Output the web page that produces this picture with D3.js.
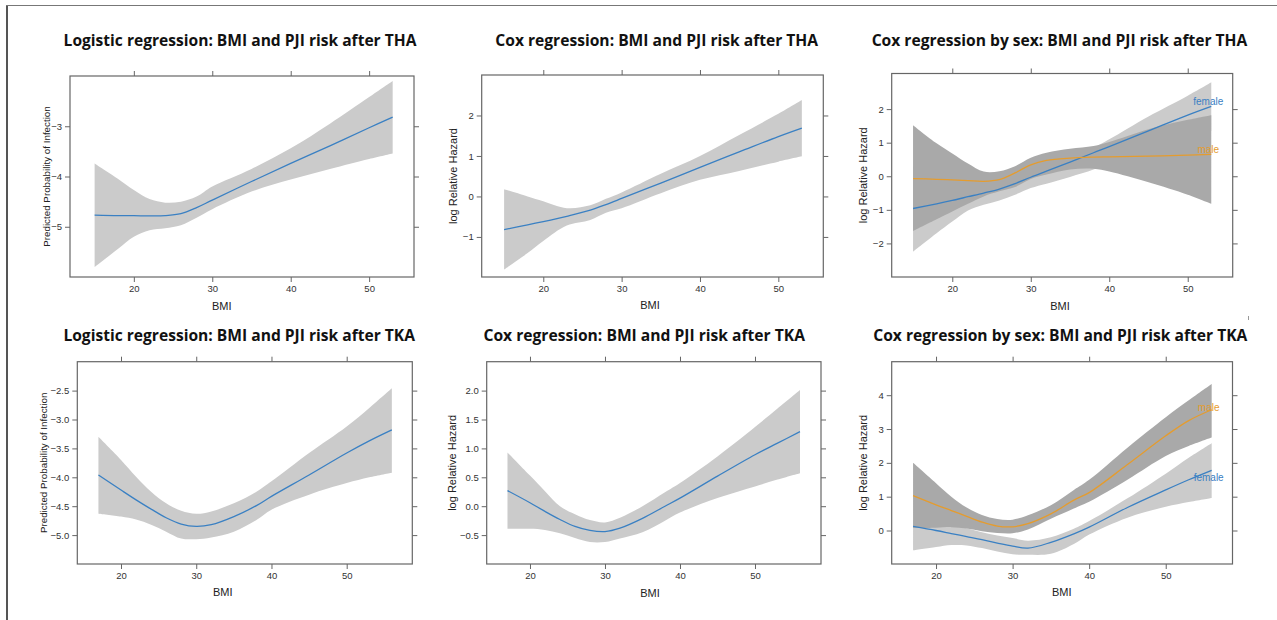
<!DOCTYPE html>
<html><head><meta charset="utf-8">
<script src="https://cdn.jsdelivr.net/npm/d3@7"></script>
<style>body{margin:0;background:#fff}svg{display:block}</style>
</head><body>
<svg id="c" width="1277" height="620"></svg>
<script>
// ---------------- DATA ----------------
const xTicks = [20, 30, 40, 50];

// THA logistic
const thaLogitX     = [15, 18, 20, 22, 24, 26, 28, 30, 35, 40, 45, 50, 53];
const thaLogitFit   = [-4.77, -4.78, -4.78, -4.785, -4.78, -4.74, -4.62, -4.47, -4.10, -3.74, -3.39, -3.03, -2.82];
const thaLogitUpper = [-3.74, -4.05, -4.27, -4.45, -4.52, -4.50, -4.40, -4.20, -3.85, -3.44, -2.95, -2.42, -2.10];
const thaLogitLower = [-5.80, -5.44, -5.20, -5.07, -5.03, -4.97, -4.82, -4.65, -4.30, -4.06, -3.85, -3.65, -3.54];
const thaLogitYTicks = [-5, -4, -3];

// THA Cox
const thaCoxX     = [15, 18, 20, 23, 26, 28, 30, 35, 40, 45, 50, 53];
const thaCoxFit   = [-0.82, -0.70, -0.62, -0.49, -0.34, -0.20, -0.05, 0.33, 0.72, 1.10, 1.48, 1.69];
const thaCoxUpper = [0.18, 0.00, -0.12, -0.29, -0.22, -0.06, 0.10, 0.56, 1.00, 1.52, 2.04, 2.38];
const thaCoxLower = [-1.81, -1.40, -1.10, -0.72, -0.58, -0.40, -0.29, 0.08, 0.41, 0.63, 0.86, 0.99];
const thaCoxYTicks = [-1, 0, 1, 2];

// THA Cox by sex
const thaSexX        = [15, 18, 20, 22, 24, 26, 28, 30, 32, 35, 38, 40, 45, 50, 53];
const thaFemaleFit   = [-0.96, -0.82, -0.72, -0.61, -0.50, -0.38, -0.22, -0.03, 0.15, 0.42, 0.70, 0.88, 1.35, 1.82, 2.08];
const thaFemaleUpper = [0.30, -0.05, -0.20, -0.30, -0.28, -0.15, 0.05, 0.22, 0.40, 0.62, 0.85, 1.10, 1.78, 2.40, 2.80];
const thaFemaleLower = [-2.25, -1.70, -1.35, -1.02, -0.85, -0.72, -0.55, -0.35, -0.22, -0.02, 0.20, 0.40, 0.85, 1.20, 1.35];
const thaMaleFit     = [-0.07, -0.09, -0.11, -0.13, -0.15, -0.10, 0.10, 0.34, 0.47, 0.54, 0.57, 0.58, 0.60, 0.63, 0.65];
const thaMaleUpper   = [1.52, 0.98, 0.68, 0.38, 0.14, 0.15, 0.30, 0.55, 0.70, 0.82, 0.90, 1.02, 1.40, 1.68, 1.82];
const thaMaleLower   = [-1.63, -1.28, -1.05, -0.82, -0.60, -0.45, -0.32, -0.08, 0.05, 0.20, 0.22, 0.14, -0.18, -0.55, -0.82];
const thaSexYTicks = [-2, -1, 0, 1, 2];

// TKA grid
const tkaX = [17, 20, 22, 24, 26, 28, 30, 32, 35, 38, 40, 45, 50, 53, 56];

// TKA logistic
const tkaLogitFit   = [-3.96, -4.22, -4.39, -4.55, -4.70, -4.81, -4.85, -4.82, -4.68, -4.49, -4.33, -3.96, -3.58, -3.37, -3.18];
const tkaLogitUpper = [-3.30, -3.70, -3.99, -4.25, -4.45, -4.58, -4.63, -4.59, -4.45, -4.25, -4.07, -3.58, -3.12, -2.80, -2.46];
const tkaLogitLower = [-4.63, -4.68, -4.73, -4.82, -4.94, -5.06, -5.07, -5.04, -4.94, -4.74, -4.56, -4.30, -4.10, -4.00, -3.92];
const tkaLogitYTicks = [-5.0, -4.5, -4.0, -3.5, -3.0, -2.5];

// TKA Cox
const tkaCoxFit   = [0.27, 0.06, -0.09, -0.23, -0.35, -0.42, -0.44, -0.38, -0.21, 0.00, 0.14, 0.52, 0.89, 1.09, 1.29];
const tkaCoxUpper = [0.93, 0.53, 0.26, 0.00, -0.14, -0.24, -0.28, -0.20, 0.00, 0.24, 0.40, 0.86, 1.37, 1.69, 2.01];
const tkaCoxLower = [-0.39, -0.39, -0.41, -0.47, -0.55, -0.62, -0.62, -0.56, -0.45, -0.25, -0.11, 0.14, 0.34, 0.46, 0.57];
const tkaCoxYTicks = [-0.5, 0.0, 0.5, 1.0, 1.5, 2.0];

// TKA Cox by sex
const tkaMaleFit     = [1.03, 0.76, 0.59, 0.42, 0.25, 0.13, 0.11, 0.20, 0.49, 0.90, 1.12, 1.95, 2.80, 3.25, 3.57];
const tkaMaleUpper   = [2.00, 1.40, 1.00, 0.68, 0.46, 0.34, 0.32, 0.45, 0.75, 1.20, 1.50, 2.45, 3.35, 3.85, 4.33];
const tkaMaleLower   = [0.07, 0.08, 0.10, 0.06, -0.02, -0.07, -0.08, 0.03, 0.35, 0.65, 0.85, 1.50, 2.20, 2.50, 2.75];
const tkaFemaleFit   = [0.12, 0.00, -0.09, -0.18, -0.27, -0.37, -0.46, -0.52, -0.35, -0.10, 0.10, 0.68, 1.20, 1.50, 1.78];
const tkaFemaleUpper = [0.30, 0.22, 0.17, 0.07, -0.05, -0.15, -0.22, -0.30, -0.20, 0.05, 0.28, 0.95, 1.68, 2.15, 2.58];
const tkaFemaleLower = [-0.59, -0.49, -0.43, -0.44, -0.52, -0.62, -0.70, -0.72, -0.69, -0.40, -0.12, 0.38, 0.70, 0.84, 0.96];
const tkaSexYTicks = [0, 1, 2, 3, 4];

// ---------------- STYLE / LAYOUT ----------------
const BLUE = "#3a80c3", ORANGE = "#e59c2e";
const LIGHT = "#cbcbcb", DARK = "#a9a9a9";
const FRAME = "#666";
const CURVE = d3.curveCatmullRom.alpha(0.5);

function zip(xs, fit, lo, hi) { return xs.map((x, i) => ({x, f: fit[i], lo: lo[i], hi: hi[i]})); }

const panels = [
  {title: "Logistic regression: BMI and PJI risk after THA", tx: 240, ty: 40, tw: 353,
   ylab: "Predicted Probability of Infection", ylx: 46.7, yls: 9.8, bx: 221.7, by: 306,
   box: {l: 70, r: 414, t: 76, b: 277}, xd: [11.86, 55.72], yd: [-6.0, -2.0],
   yt: thaLogitYTicks, fmt: d3.format("d"),
   series: [{band: zip(thaLogitX, thaLogitFit, thaLogitLower, thaLogitUpper), fill: LIGHT, col: BLUE}]},
  {title: "Cox regression: BMI and PJI risk after THA", tx: 656.7, ty: 40, tw: 323,
   ylab: "log Relative Hazard", ylx: 453, yls: 11, bx: 650, by: 305,
   box: {l: 481.7, r: 823.3, t: 75, b: 277}, xd: [12.14, 55.74], yd: [-1.99, 3.0],
   yt: thaCoxYTicks, fmt: d3.format("d"),
   series: [{band: zip(thaCoxX, thaCoxFit, thaCoxLower, thaCoxUpper), fill: LIGHT, col: BLUE}]},
  {title: "Cox regression by sex: BMI and PJI risk after THA", tx: 1059.5, ty: 40, tw: 375.7,
   ylab: "log Relative Hazard", ylx: 863, yls: 11, bx: 1060, by: 305.7,
   box: {l: 891.7, r: 1232.7, t: 73.5, b: 277}, xd: [12.28, 55.73], yd: [-3.0, 3.06],
   yt: thaSexYTicks, fmt: d3.format("d"),
   series: [
     {band: zip(thaSexX, thaFemaleFit, thaFemaleLower, thaFemaleUpper), fill: LIGHT, col: BLUE, label: "female", ldx: -3, ldy: -1},
     {band: zip(thaSexX, thaMaleFit, thaMaleLower, thaMaleUpper), fill: DARK, col: ORANGE, label: "male", ldx: -3, ldy: -1}]},
  {title: "Logistic regression: BMI and PJI risk after TKA", tx: 239.2, ty: 335, tw: 351.7,
   ylab: "Predicted Probability of Infection", ylx: 43.3, yls: 9.8, bx: 222.7, by: 592.3,
   box: {l: 77.3, r: 412.3, t: 361.7, b: 564}, xd: [14.19, 58.72], yd: [-5.5, -2.0],
   yt: tkaLogitYTicks, fmt: d3.format(".1f"),
   series: [{band: zip(tkaX, tkaLogitFit, tkaLogitLower, tkaLogitUpper), fill: LIGHT, col: BLUE}]},
  {title: "Cox regression: BMI and PJI risk after TKA", tx: 644.2, ty: 335, tw: 321.7,
   ylab: "log Relative Hazard", ylx: 451.7, yls: 11, bx: 650, by: 592.7,
   box: {l: 486.7, r: 821, t: 361.7, b: 564}, xd: [14.23, 58.8], yd: [-1.0, 2.5],
   yt: tkaCoxYTicks, fmt: d3.format(".1f"),
   series: [{band: zip(tkaX, tkaCoxFit, tkaCoxLower, tkaCoxUpper), fill: LIGHT, col: BLUE}]},
  {title: "Cox regression by sex: BMI and PJI risk after TKA", tx: 1060.3, ty: 335, tw: 374,
   ylab: "log Relative Hazard", ylx: 863.3, yls: 11, bx: 1061.7, by: 592,
   box: {l: 891.7, r: 1232.5, t: 361.7, b: 564}, xd: [14.21, 58.72], yd: [-0.99, 4.99],
   yt: tkaSexYTicks, fmt: d3.format("d"),
   series: [
     {band: zip(tkaX, tkaFemaleFit, tkaFemaleLower, tkaFemaleUpper), fill: LIGHT, col: BLUE, label: "female", ldx: -3, ldy: 11},
     {band: zip(tkaX, tkaMaleFit, tkaMaleLower, tkaMaleUpper), fill: DARK, col: ORANGE, label: "male", ldx: -3, ldy: 1}]}
];

const svg = d3.select("#c");

// outer frame (left + top)
svg.append("line").attr("x1", 7).attr("x2", 7).attr("y1", 5).attr("y2", 620)
  .attr("stroke", "#555").attr("stroke-width", 2);
svg.append("line").attr("x1", 6).attr("x2", 1277).attr("y1", 5.5).attr("y2", 5.5)
  .attr("stroke", "#777").attr("stroke-width", 1);
svg.append("line").attr("x1", 1248.5).attr("x2", 1248.5).attr("y1", 316).attr("y2", 320)
  .attr("stroke", "#999").attr("stroke-width", 1);

panels.forEach(p => {
  const B = p.box;
  const x = d3.scaleLinear().domain(p.xd).range([B.l, B.r]);
  const y = d3.scaleLinear().domain(p.yd).range([B.b, B.t]);
  const g = svg.append("g");

  // bands
  p.series.forEach(s => {
    g.append("path").datum(s.band)
      .attr("d", d3.area().x(d => x(d.x)).y0(d => y(d.lo)).y1(d => y(d.hi)).curve(CURVE))
      .attr("fill", s.fill).attr("stroke", "none");
  });
  // lines
  p.series.forEach(s => {
    g.append("path").datum(s.band)
      .attr("d", d3.line().x(d => x(d.x)).y(d => y(d.f)).curve(CURVE))
      .attr("fill", "none").attr("stroke", s.col).attr("stroke-width", 1.3);
    if (s.label) {
      const last = s.band[s.band.length - 1];
      g.append("text").attr("x", x(last.x) + s.ldx).attr("y", y(last.f) + s.ldy)
        .attr("text-anchor", "middle").attr("font-family", "Liberation Sans, Arial, sans-serif")
        .attr("font-size", 10).attr("fill", s.col).text(s.label);
    }
  });

  // axes (ticks on four sides)
  const tk = 5;
  g.append("g").attr("transform", `translate(0,${B.b})`)
    .call(d3.axisBottom(x).tickValues(xTicks).tickSize(tk).tickFormat(d3.format("d")));
  g.append("g").attr("transform", `translate(0,${B.t})`)
    .call(d3.axisTop(x).tickValues(xTicks).tickSize(tk).tickFormat(""));
  g.append("g").attr("transform", `translate(${B.l},0)`)
    .call(d3.axisLeft(y).tickValues(p.yt).tickSize(tk).tickFormat(p.fmt));
  g.append("g").attr("transform", `translate(${B.r},0)`)
    .call(d3.axisRight(y).tickValues(p.yt).tickSize(tk).tickFormat(""));
  g.selectAll(".domain").remove();
  g.selectAll(".tick line").attr("stroke", FRAME).attr("stroke-width", 1);
  g.selectAll(".tick text").attr("font-family", "Liberation Sans, Arial, sans-serif")
    .attr("font-size", 9.5).attr("fill", "#333");
  g.append("rect").attr("x", B.l).attr("y", B.t).attr("width", B.r - B.l).attr("height", B.b - B.t)
    .attr("fill", "none").attr("stroke", FRAME).attr("stroke-width", 1.2);

  // axis titles
  g.append("text").attr("x", p.bx).attr("y", p.by).attr("text-anchor", "middle")
    .attr("dominant-baseline", "central").attr("font-family", "Liberation Sans, Arial, sans-serif")
    .attr("font-size", 11).attr("fill", "#222").text("BMI");
  g.append("text").attr("transform", `translate(${p.ylx},${(B.t + B.b) / 2}) rotate(-90)`)
    .attr("text-anchor", "middle").attr("dominant-baseline", "central")
    .attr("font-family", "Liberation Sans, Arial, sans-serif")
    .attr("font-size", p.yls).attr("fill", "#222").text(p.ylab);

  // title, fitted to measured width
  const t = g.append("text").attr("x", p.tx).attr("y", p.ty).attr("text-anchor", "middle")
    .attr("dominant-baseline", "central").attr("font-family", "Open Sans, Noto Sans, sans-serif")
    .attr("font-weight", 700).attr("font-size", 15).attr("fill", "#111").text(p.title);
  const w = t.node().getComputedTextLength();
  if (w > 0) t.attr("font-size", (15 * p.tw / w).toFixed(2));
});
</script>
</body></html>
